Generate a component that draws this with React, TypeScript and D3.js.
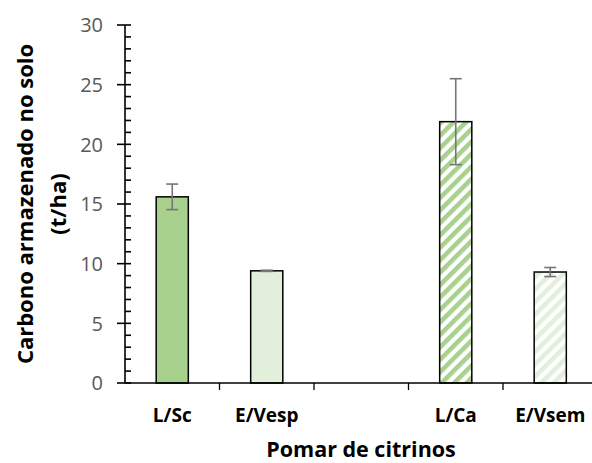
import React from "react";
import * as d3 from "d3";

// Soil carbon stock per citrus orchard (t/ha), with standard deviation
const categories = ["L/Sc", "E/Vesp", "", "L/Ca", "E/Vsem"];
const carbonValues = [15.6, 9.4, null, 21.9, 9.3];
const carbonErrors = [1.07, 0.05, null, 3.6, 0.38];
const yTicks = [0, 5, 10, 15, 20, 25, 30];

const W = 592;
const H = 463;
const margin = { left: 125, top: 25 };
const plotBottom = 383;
const slotWidth = 94.5;

const FONT = "'Open Sans', 'Noto Sans', sans-serif";

export default function App() {
  const x = d3
    .scaleBand<string>()
    .domain(categories.map((c, i) => `${i}`))
    .range([margin.left, margin.left + slotWidth * categories.length])
    .padding(0);
  const y = d3.scaleLinear().domain([0, 30]).range([plotBottom, margin.top]);
  const barW = x.bandwidth() * 0.34;

  const fills = [
    "#a9d18e",
    "#e2efda",
    "none",
    "url(#hatchDark)",
    "url(#hatchLight)",
  ];

  const minorTicks = d3.range(0, 31, 1).filter((v) => v % 5 !== 0);
  const slotEdges = categories.map((_, i) => x(`${i}`)!).slice(1);

  return (
    <svg
      width={W}
      height={H}
      style={{ position: "absolute", left: 0, top: 0, background: "#fff" }}
    >
      <defs>
        <pattern
          id="hatchDark"
          width={8.8}
          height={8.8}
          patternUnits="userSpaceOnUse"
          patternTransform="rotate(45)"
        >
          <rect width={8.8} height={8.8} fill="#fff" />
          <rect width={4.6} height={8.8} fill="#a9d18e" />
        </pattern>
        <pattern
          id="hatchLight"
          width={8.8}
          height={8.8}
          patternUnits="userSpaceOnUse"
          patternTransform="rotate(45)"
        >
          <rect width={8.8} height={8.8} fill="#fff" />
          <rect width={4.6} height={8.8} fill="#e2efda" />
        </pattern>
      </defs>

      {/* bars */}
      {categories.map((c, i) => {
        const v = carbonValues[i];
        if (v == null) return null;
        const cx = x(`${i}`)! + x.bandwidth() / 2;
        return (
          <rect
            key={`bar-${i}`}
            x={cx - barW / 2}
            y={y(v)}
            width={barW}
            height={y(0) - y(v)}
            fill={fills[i]}
            stroke="#000"
            strokeWidth={1.5}
          />
        );
      })}

      {/* error bars */}
      {categories.map((c, i) => {
        const v = carbonValues[i];
        const e = carbonErrors[i];
        if (v == null || e == null) return null;
        const cx = x(`${i}`)! + x.bandwidth() / 2;
        const top = y(v + e);
        const bot = y(v - e);
        return (
          <g key={`err-${i}`} stroke="#767676" strokeWidth={1.6} fill="none">
            <line x1={cx} x2={cx} y1={top} y2={bot} />
            <line x1={cx - 6} x2={cx + 6} y1={top} y2={top} />
            <line x1={cx - 6} x2={cx + 6} y1={bot} y2={bot} />
          </g>
        );
      })}

      {/* y axis */}
      <g stroke="#000" strokeWidth={1.6}>
        <line x1={margin.left} x2={margin.left} y1={y(30)} y2={y(0)} />
        {yTicks.map((t) => (
          <line
            key={`maj-${t}`}
            x1={margin.left - 8}
            x2={margin.left + 6}
            y1={y(t)}
            y2={y(t)}
          />
        ))}
        {minorTicks.map((t) => (
          <line
            key={`min-${t}`}
            x1={margin.left}
            x2={margin.left + 6}
            y1={y(t)}
            y2={y(t)}
          />
        ))}
      </g>
      {yTicks.map((t) => (
        <text
          key={`yl-${t}`}
          x={103}
          y={y(t)}
          dy="0.36em"
          textAnchor="end"
          fontFamily={FONT}
          fontSize={20}
          fill="#595959"
        >
          {t}
        </text>
      ))}

      {/* x axis */}
      <g stroke="#000" strokeWidth={1.3}>
        <line x1={margin.left} x2={W} y1={y(0)} y2={y(0)} />
        {slotEdges.map((sx, i) => (
          <line key={`xt-${i}`} x1={sx} x2={sx} y1={y(0)} y2={y(0) + 7} />
        ))}
      </g>
      {categories.map((c, i) =>
        c ? (
          <text
            key={`xl-${i}`}
            x={x(`${i}`)! + x.bandwidth() / 2}
            y={422}
            textAnchor="middle"
            fontFamily={FONT}
            fontWeight="bold"
            fontSize={19}
            fill="#000"
          >
            {c}
          </text>
        ) : null
      )}

      {/* axis titles */}
      <text
        x={361}
        y={457}
        textAnchor="middle"
        fontFamily={FONT}
        fontWeight="bold"
        fontSize={21.5}
        fill="#000"
      >
        Pomar de citrinos
      </text>
      <g transform="translate(0,204) rotate(-90)">
        <text
          x={0}
          y={33}
          textAnchor="middle"
          fontFamily={FONT}
          fontWeight="bold"
          fontSize={22}
          fill="#000"
        >
          Carbono armazenado no solo
        </text>
        <text
          x={0}
          y={66}
          textAnchor="middle"
          fontFamily={FONT}
          fontWeight="bold"
          fontSize={22}
          fill="#000"
        >
          (t/ha)
        </text>
      </g>
    </svg>
  );
}
